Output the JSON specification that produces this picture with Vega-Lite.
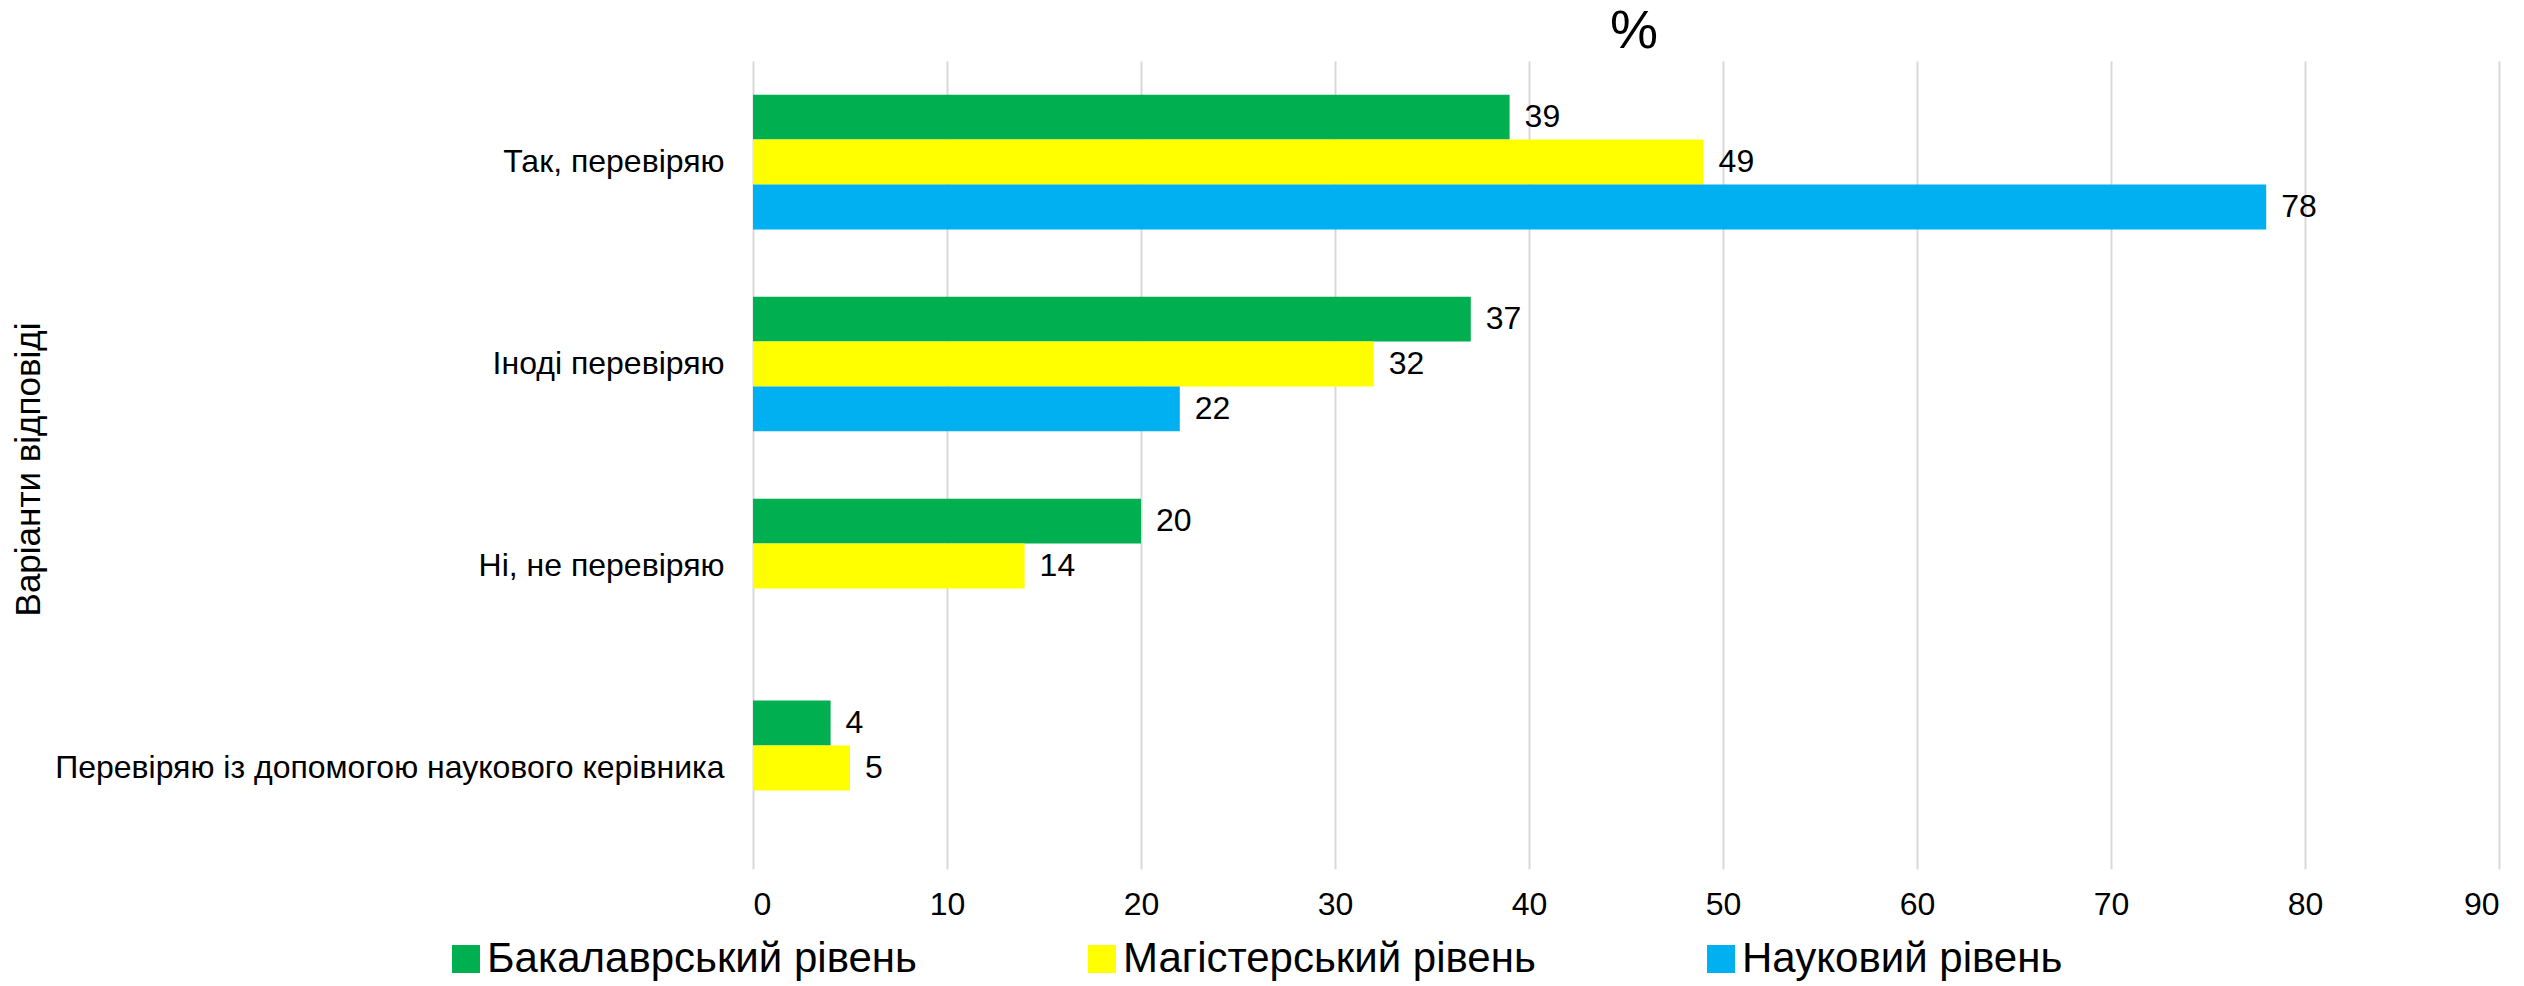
{
  "$schema": "https://vega.github.io/schema/vega-lite/v6.json",
  "autosize": {"type": "none"},
  "padding": {"left": 753, "top": 61, "right": 25, "bottom": 117},
  "width": 1746,
  "height": 808,
  "background": "white",
  "config": {
    "font": "Liberation Sans",
    "view": {"stroke": null}
  },
  "title": {"text": "%", "fontSize": 54, "fontWeight": "normal", "anchor": "middle", "offset": 2, "dx": 8, "color": "black"},
  "data": {
    "values": [
      {"category": "Так, перевіряю", "level": "Бакалаврський рівень", "value": 39},
      {"category": "Так, перевіряю", "level": "Магістерський рівень", "value": 49},
      {"category": "Так, перевіряю", "level": "Науковий рівень", "value": 78},
      {"category": "Іноді перевіряю", "level": "Бакалаврський рівень", "value": 37},
      {"category": "Іноді перевіряю", "level": "Магістерський рівень", "value": 32},
      {"category": "Іноді перевіряю", "level": "Науковий рівень", "value": 22},
      {"category": "Ні, не перевіряю", "level": "Бакалаврський рівень", "value": 20},
      {"category": "Ні, не перевіряю", "level": "Магістерський рівень", "value": 14},
      {"category": "Перевіряю із допомогою наукового керівника", "level": "Бакалаврський рівень", "value": 4},
      {"category": "Перевіряю із допомогою наукового керівника", "level": "Магістерський рівень", "value": 5}
    ]
  },
  "encoding": {
    "y": {
      "field": "category",
      "type": "nominal",
      "sort": ["Так, перевіряю", "Іноді перевіряю", "Ні, не перевіряю", "Перевіряю із допомогою наукового керівника"],
      "scale": {"paddingInner": 0.333, "paddingOuter": 0.1667},
      "axis": {
        "title": "Варіанти відповіді",
        "titleFontSize": 35,
        "titleFontWeight": "normal",
        "titleColor": "black",
        "titleX": -725,
        "titleY": 408,
        "titleAngle": -90,
        "titleAlign": "center",
        "titleBaseline": "middle",
        "labelFontSize": 32,
        "labelColor": "black",
        "labelPadding": 29,
        "labelLimit": 1000,
        "ticks": false,
        "domain": false
      }
    },
    "yOffset": {
      "field": "level",
      "type": "nominal",
      "scale": {"domain": ["Бакалаврський рівень", "Магістерський рівень", "Науковий рівень"], "paddingInner": 0, "paddingOuter": 0}
    },
    "x": {
      "field": "value",
      "type": "quantitative",
      "scale": {"domain": [0, 90], "nice": false},
      "axis": {
        "title": null,
        "values": [0, 10, 20, 30, 40, 50, 60, 70, 80, 90],
        "labelFontSize": 32,
        "labelColor": "black",
        "labelPadding": 20,
        "ticks": false,
        "domain": false,
        "grid": true,
        "gridColor": "#d9d9d9",
        "gridWidth": 2
      }
    }
  },
  "layer": [
    {
      "mark": {"type": "bar"},
      "encoding": {
        "color": {
          "field": "level",
          "type": "nominal",
          "scale": {"domain": ["Бакалаврський рівень", "Магістерський рівень", "Науковий рівень"], "range": ["#00B050", "#FFFF00", "#00B0F0"]},
          "legend": {
            "title": null,
            "orient": "none",
            "direction": "horizontal",
            "legendX": -308,
            "legendY": 877,
            "symbolType": "square",
            "symbolSize": 784,
            "symbolStrokeWidth": 0,
            "labelFontSize": 42,
            "labelColor": "black",
            "labelOffset": 0,
            "labelLimit": 1000,
            "columnPadding": 164
          }
        }
      }
    },
    {
      "mark": {"type": "text", "align": "left", "baseline": "middle", "dx": 15, "fontSize": 32, "color": "black"},
      "encoding": {
        "text": {"field": "value", "type": "quantitative"}
      }
    }
  ]
}
